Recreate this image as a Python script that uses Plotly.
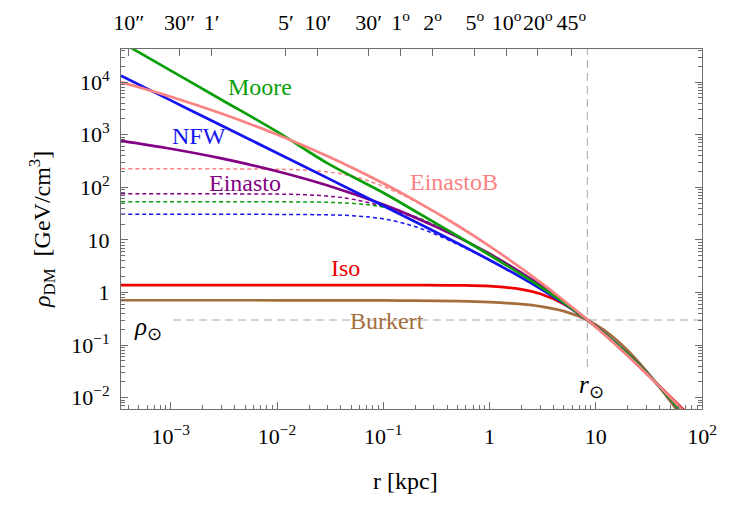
import math
import plotly.graph_objects as go

# ---------------- data ----------------
r_kpc = [3.4e-4, 1e-3, 3e-3, 0.01, 0.03, 0.1, 0.2, 0.5, 1, 2, 3, 5, 8.33, 12, 20, 30, 45, 70, 100]
rho_nfw = [13215, 4493, 1497.4, 448.9, 149.41, 44.57, 22.10, 8.630, 4.147, 1.9194, 1.1880, 0.6192,
           0.29991, 0.16834, 0.06790, 0.030160, 0.012356, 0.004294, 0.001731]
rho_moore = [57800, 16568, 4631, 1145.7, 284.9, 78.83, 35.06, 11.897, 5.169, 2.1830, 1.2894, 0.64039,
             0.30005, 0.16623, 0.066823, 0.029901, 0.012411, 0.0043863, 0.0017920]
rho_einasto = [765.7, 542.2, 355.5, 202.28, 108.27, 47.06, 26.80, 11.41, 5.444, 2.3675, 1.3870, 0.66937,
               0.30277, 0.16430, 0.065372, 0.029643, 0.012704, 0.0047098, 0.0019988]
rho_einastoB = [10039, 5277, 2522.9, 1006.6, 388.9, 119.15, 55.97, 18.79, 7.624, 2.880, 1.5730, 0.70558,
                0.30243, 0.16018, 0.062976, 0.028890, 0.012790, 0.0050457, 0.0023020]
rho_iso = [1.387, 1.387, 1.387, 1.387, 1.3869, 1.3863, 1.3841, 1.36916, 1.31828, 1.14770, 0.94407, 0.60223,
           0.30041, 0.16306, 0.063478, 0.028948, 0.013017, 0.0054094, 0.0026558]
rho_burkert = [0.71198, 0.71194, 0.71183, 0.71144, 0.71031, 0.70638, 0.70076, 0.68390, 0.65583, 0.59998,
               0.54513, 0.44174, 0.29993, 0.19276, 0.079080, 0.032002, 0.011490, 0.0034615, 0.0012650]

# smoothed (dashed) versions
r_dash_a = [3.4e-4, 0.01, 0.03, 0.05, 0.08, 0.12, 0.18, 0.25, 0.35, 0.5, 0.7, 1.0]
rho_nfw_dash = [30.62, 30.55, 29.98, 28.93, 26.77, 23.51, 19.08, 15.19, 11.50, 8.274, 5.933, 4.100]
rho_moore_dash = [53.2, 53.07, 51.86, 49.65, 45.18, 38.67, 30.1, 22.99, 16.63, 11.37, 7.77, 5.116]
r_dash_b = [3.4e-4, 0.01, 0.02, 0.035, 0.05, 0.07, 0.1, 0.15, 0.22, 0.3]
rho_einasto_dash = [75.2, 74.26, 71.74, 66.11, 59.85, 52.08, 42.84, 32.54, 24.08, 18.41]
rho_einastoB_dash = [224.3, 220.5, 210.35, 188.14, 164.18, 135.89, 104.29, 72.2, 48.59, 34.36]

r_sun = 8.33
rho_sun = 0.3

x_tickvals = [1e-3, 1e-2, 1e-1, 1, 10, 100]
x_ticktext = ["10<sup>−3</sup>", "10<sup>−2</sup>", "10<sup>−1</sup>", "1", "10", "10<sup>2</sup>"]
y_tickvals = [1e-2, 1e-1, 1, 10, 1e2, 1e3, 1e4]
y_ticktext = ["10<sup>−2</sup>", "10<sup>−1</sup>", "1", "10", "10<sup>2</sup>", "10<sup>3</sup>", "10<sup>4</sup>"]
# top axis: angle seen from the Earth -> r = r_sun * sin(theta)
angle_deg = [10/3600, 30/3600, 1/60, 5/60, 10/60, 30/60, 1, 2, 5, 10, 20, 45]
angle_text = ["10″", "30″", "1′", "5′", "10′", "30′", "1<sup>o</sup>", "2<sup>o</sup>",
              "5<sup>o</sup>", "10<sup>o</sup>", "20<sup>o</sup>", "45<sup>o</sup>"]
top_tickvals = [r_sun * math.sin(math.radians(a)) for a in angle_deg]

names = ["Burkert", "Iso", "Einasto", "NFW", "Moore", "EinastoB"]
colors = {"Moore": "#0a9e0a", "NFW": "#1414f0", "EinastoB": "#fa8282", "Einasto": "#840084",
          "Iso": "#f00000", "Burkert": "#a46e3c"}
series = {"Moore": rho_moore, "NFW": rho_nfw, "EinastoB": rho_einastoB, "Einasto": rho_einasto,
          "Iso": rho_iso, "Burkert": rho_burkert}

XR = [math.log10(3.4e-4), 2.0]
YR = [-2.215, 4.63]
L, R, T, B = 121, 702, 49, 409

FONT = "Liberation Serif"
FS = 24
TFS = 22

fig = go.Figure()

# reference lines
fig.add_trace(go.Scatter(x=[r_sun, r_sun], y=[0.0384, 1e6], mode="lines",
                         line=dict(color="#a8a8a8", width=1, dash="8px,5px"),
                         hoverinfo="skip", showlegend=False))
fig.add_trace(go.Scatter(x=[1.05e-3, 300], y=[rho_sun, rho_sun], mode="lines",
                         line=dict(color="#a8a8a8", width=1, dash="8px,5px"),
                         hoverinfo="skip", showlegend=False))

# dashed smoothed profiles
for xs, ys, name in [(r_dash_b, rho_einastoB_dash, "EinastoB"), (r_dash_b, rho_einasto_dash, "Einasto"),
                     (r_dash_a, rho_moore_dash, "Moore"), (r_dash_a, rho_nfw_dash, "NFW")]:
    fig.add_trace(go.Scatter(x=xs, y=ys, mode="lines", line=dict(color=colors[name], width=1.5,
                             dash="4px,3px", shape="spline"), hoverinfo="skip", showlegend=False))

for name in names:
    fig.add_trace(go.Scatter(x=r_kpc, y=series[name], mode="lines", name=name,
                             line=dict(color=colors[name], width=2.7, shape="spline"),
                             showlegend=False))

# dummy trace for the top axis
fig.add_trace(go.Scatter(x=[10**XR[0], 10**XR[1]], y=[1, 1], xaxis="x2", mode="lines",
                         line=dict(width=0), opacity=0, hoverinfo="skip", showlegend=False))

axis_common = dict(showline=True, linecolor="#6e6e6e", linewidth=1, ticks="inside", ticklen=7,
                   tickcolor="#6e6e6e", tickwidth=1, showgrid=False, zeroline=False,
                   automargin=False, tickangle=0,
                   tickfont=dict(family=FONT, size=TFS, color="black"))

minor_x = [m * 10**e for e in range(-4, 3) for m in range(2, 10)]
minor_y = [m * 10**e for e in range(-3, 5) for m in range(2, 10)]

fig.update_layout(
    width=730, height=505, autosize=False,
    margin=dict(l=L, r=730 - R, t=T, b=505 - B),
    paper_bgcolor="white", plot_bgcolor="white",
    xaxis=dict(type="log", range=XR, tickvals=x_tickvals, ticktext=x_ticktext, ticklabelstandoff=8,
               minor=dict(tickvals=minor_x, ticks="inside", ticklen=4, tickcolor="#6e6e6e"),
               **axis_common),
    xaxis2=dict(type="log", range=XR, overlaying="x", side="top", anchor="y", ticklabelstandoff=9,
                tickvals=top_tickvals, ticktext=angle_text, **axis_common),
    yaxis=dict(type="log", range=YR, tickvals=y_tickvals, ticktext=y_ticktext, mirror="ticks",
               ticklabelstandoff=6,
               minor=dict(tickvals=minor_y, ticks="inside", ticklen=4, tickcolor="#6e6e6e"),
               **axis_common),
)


def px(xp):
    return (xp - L) / (R - L)


def py(yp):
    return (B - yp) / (B - T)


labels = [("Moore", 260, 87), ("NFW", 199, 136), ("Einasto", 245, 183), ("EinastoB", 454, 182),
          ("Iso", 345, 268), ("Burkert", 387, 321)]
for text, xp, yp in labels:
    fig.add_annotation(x=px(xp), y=py(yp), xref="paper", yref="paper", text=text, showarrow=False,
                       font=dict(family=FONT, size=FS, color=colors[text]),
                       xanchor="center", yanchor="middle")

fig.add_annotation(x=px(132), y=py(328), xref="paper", yref="paper", text="<i>ρ</i><sub>⊙</sub>",
                   xanchor="left", yanchor="middle", showarrow=False,
                   font=dict(family=FONT, size=25, color="black"))
fig.add_annotation(x=px(577), y=py(386), xref="paper", yref="paper", text="<i>r</i><sub>⊙</sub>",
                   xanchor="left", yanchor="middle", showarrow=False,
                   font=dict(family=FONT, size=25, color="black"))
fig.add_annotation(x=px(405), y=py(481), xref="paper", yref="paper", text="r [kpc]",
                   xanchor="center", yanchor="middle", showarrow=False,
                   font=dict(family=FONT, size=FS, color="black"))
fig.add_annotation(x=px(42), y=py(229), xref="paper", yref="paper",
                   text="<i>ρ</i><sub>DM</sub>\u00a0\u00a0[GeV/cm<sup>3</sup>]", textangle=-90,
                   xanchor="center", yanchor="middle", showarrow=False,
                   font=dict(family=FONT, size=24, color="black"))

fig.write_html("out.html", config={"displayModeBar": False},
               post_script="document.body.style.margin='0';document.body.style.padding='0';")
